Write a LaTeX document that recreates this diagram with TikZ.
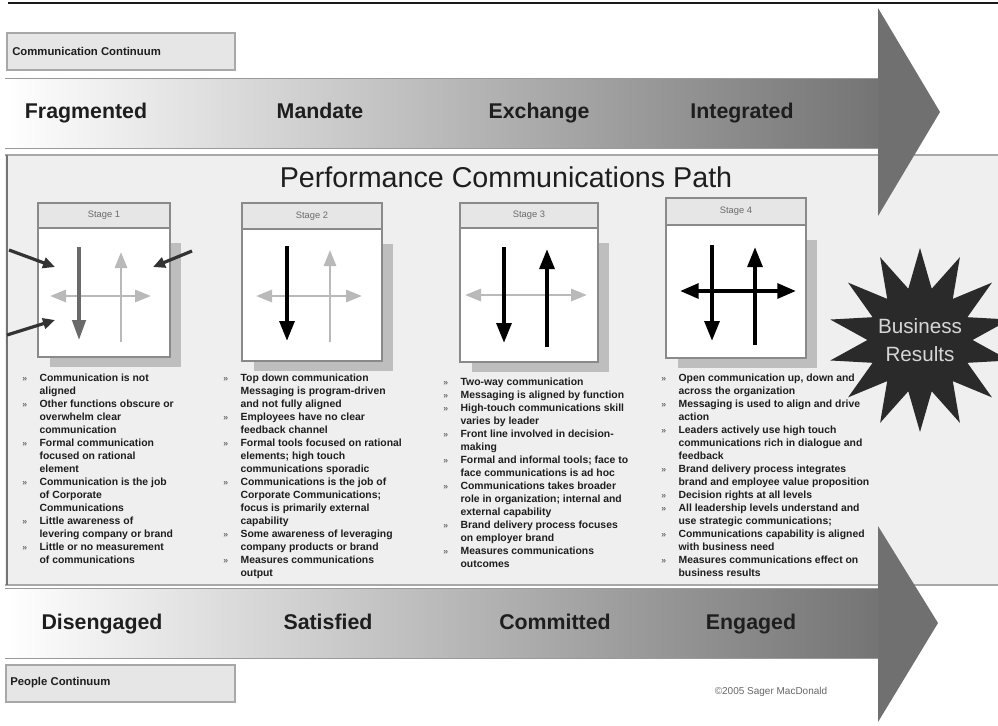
\documentclass[tikz,border=0pt]{standalone}
\usepackage{fontspec}
\setmainfont{Liberation Sans}
\usetikzlibrary{arrows.meta,shapes.geometric}
\definecolor{panel}{HTML}{EFEFEF}
\definecolor{panelline}{HTML}{A8A8A8}
\definecolor{headgray}{HTML}{707070}
\definecolor{arrend}{HTML}{747474}
\definecolor{lightarr}{HTML}{B9B9B9}
\definecolor{darkarr}{HTML}{6A6A6A}
\definecolor{extarr}{HTML}{333333}
\definecolor{shadowc}{HTML}{BEBEBE}
\definecolor{hdrfill}{HTML}{E6E6E6}
\definecolor{boxline}{HTML}{8A8A8A}
\definecolor{txt}{HTML}{1E1E1E}
\definecolor{starc}{HTML}{2A2A2A}
\definecolor{startxt}{HTML}{D6D6D6}
\newcommand\bmark{{\fontsize{6.5}{6.5}\selectfont\color{darkarr}»}}
\newcommand\bi{\makebox[13pt][l]{\bmark}}
\newcommand\ci{\hspace*{13pt}}
\newcommand\stagebox[7]{%
  \fill[shadowc] (#2+12,#5+15) rectangle (#3+11,#6+10);
  \draw[stagebody] (#2,#5) rectangle (#3,#6);
  \draw[stagehdr] (#2,#4) rectangle (#3,#5);
  \node[stagelbl] (#1) at ({(#2+#3)/2},{(#4+#5)/2}) {#7};
}
\begin{document}
\begin{tikzpicture}[x=0.75pt,y=-0.75pt,
  stagehdr/.style={draw=boxline, fill=hdrfill, line width=0.8pt},
  stagebody/.style={draw=boxline, fill=white, line width=0.8pt},
  stagelbl/.style={font=\fontsize{7}{8}\selectfont, text=darkarr, inner sep=0},
  lblbox/.style={draw=panelline, fill=hdrfill, line width=0.8pt},
  lbltext/.style={font=\fontsize{8.5}{10}\selectfont\bfseries, text=txt, inner sep=0, anchor=west},
  stagename/.style={font=\fontsize{16}{19}\selectfont\bfseries, text=txt, inner sep=0, anchor=base},
  bul/.style={font=\fontsize{7.8}{9.75}\selectfont\bfseries, align=left, inner sep=0, text=txt, anchor=north west},
  lightar/.style={draw=lightarr, line width=2.2pt, -{Triangle[length=12pt,width=9pt]}},
  lightdbl/.style={draw=lightarr, line width=2.2pt, {Triangle[length=12pt,width=9pt]}-{Triangle[length=12pt,width=9pt]}},
  blackar/.style={draw=black, line width=3pt, -{Triangle[length=15pt,width=11pt]}},
  blackdbl/.style={draw=black, line width=3pt, {Triangle[length=14pt,width=11pt]}-{Triangle[length=14pt,width=11pt]}},
  darkar/.style={draw=darkarr, line width=2.6pt, -{Triangle[length=15pt,width=10pt]}},
  extar/.style={draw=extarr, line width=2.4pt, -{Triangle[length=9pt,width=8pt]}},
]
\useasboundingbox (0,0) rectangle (998,725);
\clip (0,0) rectangle (998,725);
\fill[white] (0,0) rectangle (998,725);

% top rule
\draw[line width=1.5pt, draw=black!90] (8,3) -- (998,3);

% main panel
\fill[panel] (5,155) rectangle (998,585);
\draw[panelline, line width=0.9pt] (5,155) -- (998,155);
\draw[panelline, line width=0.9pt] (5,585) -- (998,585);
\draw[black!55, line width=1.8pt] (7,155) -- (7,585);

% title
\node[font=\fontsize{21.5}{25}\selectfont, text=txt, inner sep=0] (title) at (506,177) {Performance Communications Path};

% label boxes
\draw[lblbox] (7,33) rectangle (235,70);
\node[lbltext] (cc) at (12,51.5) {Communication Continuum};
\draw[lblbox] (6,665) rectangle (235,702);
\node[lbltext] (pc) at (10,683) {People Continuum};
\node[font=\fontsize{7.5}{9}\selectfont, text=black!60, inner sep=0] (copy) at (771,692) {©2005 Sager MacDonald};

% bullet lists
\node[bul] (c1) at (22,372.5) {\strut\bi Communication is not\\ \ci aligned\\ \bi Other functions obscure or\\ \ci overwhelm clear\\ \ci communication\\ \bi Formal communication\\ \ci focused on rational\\ \ci element\\ \bi Communication is the job\\ \ci of Corporate\\ \ci Communications\\ \bi Little awareness of\\ \ci levering company or brand\\ \bi Little or no measurement\\ \ci of communications};
\node[bul] (c2) at (223,372.5) {\strut\bi Top down communication\\ \ci Messaging is program-driven\\ \ci and not fully aligned\\ \bi Employees have no clear\\ \ci feedback channel\\ \bi Formal tools focused on rational\\ \ci elements; high touch\\ \ci communications sporadic\\ \bi Communications is the job of\\ \ci Corporate Communications;\\ \ci focus is primarily external\\ \ci capability\\ \bi Some awareness of leveraging\\ \ci company products or brand\\ \bi Measures communications\\ \ci output};
\node[bul] (c3) at (443,376) {\strut\bi Two-way communication\\ \bi Messaging is aligned by function\\ \bi High-touch communications skill\\ \ci varies by leader\\ \bi Front line involved in decision-\\ \ci making\\ \bi Formal and informal tools; face to\\ \ci face communications is ad hoc\\ \bi Communications takes broader\\ \ci role in organization; internal and\\ \ci external capability\\ \bi Brand delivery process focuses\\ \ci on employer brand\\ \bi Measures communications\\ \ci outcomes};
\node[bul] (c4) at (661,372.5) {\strut\bi Open communication up, down and\\ \ci across the organization\\ \bi Messaging is used to align and drive\\ \ci action\\ \bi Leaders actively use high touch\\ \ci communications rich in dialogue and\\ \ci feedback\\ \bi Brand delivery process integrates\\ \ci brand and employee value proposition\\ \bi Decision rights at all levels\\ \bi All leadership levels understand and\\ \ci use strategic communications;\\ \bi Communications capability is aligned\\ \ci with business need\\ \bi Measures communications effect on\\ \ci business results};

% stage boxes
\stagebox{s1}{38}{170}{203}{228}{357}{Stage 1}
\stagebox{s2}{242}{382}{203}{229}{361}{Stage 2}
\stagebox{s3}{460}{598}{203}{228}{362}{Stage 3}
\stagebox{s4}{666}{806}{198}{225}{358}{Stage 4}

% stage 1 icon
\coordinate (a1h0) at (50,296);  \coordinate (a1h1) at (151,296);
\coordinate (a1u0) at (121,342); \coordinate (a1u1) at (121,252);
\coordinate (a1d0) at (79,247);  \coordinate (a1d1) at (79,340);
\draw[lightdbl] (a1h0) -- (a1h1);
\draw[lightar] (a1u0) -- (a1u1);
\draw[darkar] (a1d0) -- (a1d1);
\coordinate (e1a) at (9,250);   \coordinate (e1b) at (55,267);
\coordinate (e2a) at (192,251); \coordinate (e2b) at (153,267);
\coordinate (e3a) at (7,335);   \coordinate (e3b) at (55,320);
\draw[extar] (e1a) -- (e1b);
\draw[extar] (e2a) -- (e2b);
\draw[extar] (e3a) -- (e3b);

% stage 2 icon
\coordinate (a2h0) at (256,296); \coordinate (a2h1) at (362,296);
\coordinate (a2u0) at (330,342); \coordinate (a2u1) at (330,250);
\coordinate (a2d0) at (287,246); \coordinate (a2d1) at (287,341);
\draw[lightdbl] (a2h0) -- (a2h1);
\draw[lightar] (a2u0) -- (a2u1);
\draw[blackar] (a2d0) -- (a2d1);

% stage 3 icon
\coordinate (a3h0) at (465,295); \coordinate (a3h1) at (587,295);
\coordinate (a3u0) at (547,347); \coordinate (a3u1) at (547,249);
\coordinate (a3d0) at (504,247); \coordinate (a3d1) at (504,343);
\draw[lightdbl] (a3h0) -- (a3h1);
\draw[blackar] (a3d0) -- (a3d1);
\draw[blackar] (a3u0) -- (a3u1);

% stage 4 icon
\coordinate (a4h0) at (680,291); \coordinate (a4h1) at (796,291);
\coordinate (a4u0) at (755,345); \coordinate (a4u1) at (755,247);
\coordinate (a4d0) at (712,245); \coordinate (a4d1) at (712,341);
\draw[blackar] (a4d0) -- (a4d1);
\draw[blackar] (a4u0) -- (a4u1);
\draw[blackdbl] (a4h0) -- (a4h1);

% top arrow
\shade[left color=white, right color=arrend] (5,78) rectangle (878,148);
\draw[black!40, line width=0.6pt] (5,78) -- (878,78) (5,148) -- (878,148);
\fill[headgray] (878,8) -- (940,112) -- (878,216) -- cycle;
\node[stagename] (n1) at (86,118) {Fragmented};
\node[stagename] (n2) at (320,118) {Mandate};
\node[stagename] (n3) at (539,118) {Exchange};
\node[stagename] (n4) at (742,118) {Integrated};

% bottom arrow
\shade[left color=white, right color=arrend] (5,588) rectangle (878,658);
\draw[black!40, line width=0.6pt] (5,588) -- (878,588) (5,658) -- (878,658);
\fill[headgray] (878,526) -- (938,623) -- (878,722) -- cycle;
\node[stagename] (m1) at (102,629) {Disengaged};
\node[stagename] (m2) at (328,629) {Satisfied};
\node[stagename] (m3) at (555,629) {Committed};
\node[stagename] (m4) at (751,629) {Engaged};

% star
\node[star, star points=14, star point ratio=1.75, minimum size=138pt, inner sep=0, outer sep=0, fill=starc, draw=none] (star) at (920,340) {};
\node[font=\fontsize{15.5}{21}\selectfont, text=startxt, align=center, inner sep=0] (br) at (star.center) {Business\\Results};
\end{tikzpicture}
\end{document}
